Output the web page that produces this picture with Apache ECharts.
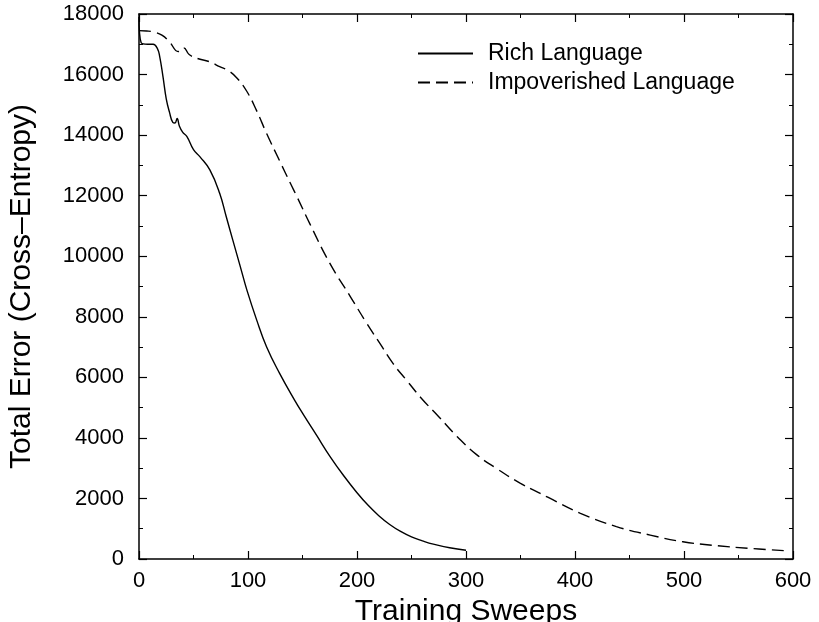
<!DOCTYPE html>
<html>
<head>
<meta charset="utf-8">
<script src="https://cdn.jsdelivr.net/npm/echarts@6/dist/echarts.min.js"></script>
<style>
  html, body { margin: 0; padding: 0; background: #fff; }
  #chart { width: 819px; height: 622px; }
</style>
</head>
<body>
<div id="chart"></div>
<script>
// Rich Language (solid line)
const richSweeps = [0, 2, 8, 13, 17, 19, 22, 25, 28, 31, 33, 35, 37, 40, 44, 50, 56, 65, 74, 80, 86, 93, 99, 108, 117, 129, 143, 151, 163, 175, 188, 200, 210, 220, 230, 240, 250, 260, 270, 285, 300]
const richError = [17900, 17050, 17000, 17000, 16850, 16590, 15930, 15200, 14750, 14420, 14400, 14550, 14300, 14100, 13950, 13520, 13280, 12850, 12080, 11310, 10540, 9650, 8880, 7890, 7010, 6130, 5230, 4760, 4080, 3400, 2740, 2190, 1780, 1430, 1140, 910, 730, 600, 490, 370, 290]

// Impoverished Language (dashed line)
const poorSweeps = [0, 7, 13, 21, 28, 36, 41, 46, 53, 65, 74, 82, 90, 99, 108, 117, 129, 139, 145, 157, 175, 194, 209, 221, 233, 246, 259, 275, 292, 310, 328, 350, 375, 405, 438, 469, 499, 530, 561, 597]
const poorError = [17450, 17440, 17410, 17300, 17080, 16760, 16880, 16660, 16540, 16420, 16260, 16130, 15880, 15440, 14800, 14060, 13150, 12400, 11960, 11050, 9770, 8660, 7780, 7120, 6460, 5880, 5310, 4700, 4040, 3440, 2990, 2500, 2040, 1510, 1070, 790, 570, 440, 350, 265]

const xTicks = [0, 100, 200, 300, 400, 500, 600]
const yTicks = [0, 2000, 4000, 6000, 8000, 10000, 12000, 14000, 16000, 18000]

const font = 'Liberation Sans, Arial, Helvetica, sans-serif'

const zip = (xs, ys) => xs.map((x, i) => [x, ys[i]])

const chart = echarts.init(document.getElementById('chart'))

// 坐标轴公共设置
const axisBase = (extra) => Object.assign({
  type: 'value',
  axisLine: { show: true, onZero: false, lineStyle: { color: '#000', width: 1.5 } },
  axisTick: { show: true, inside: true, length: 8, lineStyle: { color: '#000', width: 1.2 } },
  minorTick: { show: true, splitNumber: 2, length: 4, lineStyle: { color: '#000', width: 1 } },
  splitLine: { show: false },
  minorSplitLine: { show: false }
}, extra)

const option = {
  animation: false,
  backgroundColor: '#fff',
  grid: { left: 139, right: 26, top: 14, bottom: 63, outerBoundsMode: 'none', containLabel: false },
  legend: {
    orient: 'vertical',
    left: 412,
    top: 37,
    itemWidth: 55,
    itemHeight: 16,
    itemGap: 6,
    itemStyle: { opacity: 0 },
    textStyle: { fontFamily: font, fontSize: 23, color: '#000', padding: [0, 0, 0, 10] },
    data: ['Rich Language', 'Impoverished Language']
  },
  xAxis: [
    axisBase({
      min: 0, max: 600, interval: 100,
      position: 'bottom',
      name: 'Training Sweeps',
      nameLocation: 'middle',
      nameGap: 26,
      nameTextStyle: { fontFamily: font, fontSize: 30, color: '#000' },
      axisLabel: {
        fontFamily: font, fontSize: 22, color: '#000', margin: 11,
        formatter: (v) => xTicks.includes(v) ? String(v) : ''
      }
    }),
    axisBase({
      min: 0, max: 600, interval: 100,
      position: 'top',
      axisLabel: { show: false }
    })
  ],
  yAxis: [
    axisBase({
      min: 0, max: 18000, interval: 2000,
      position: 'left',
      name: 'Total Error (Cross\u2013Entropy)',
      nameLocation: 'middle',
      nameGap: 102,
      nameTextStyle: { fontFamily: font, fontSize: 30, color: '#000' },
      axisLabel: {
        fontFamily: font, fontSize: 22, color: '#000', margin: 15,
        formatter: (v) => yTicks.includes(v) ? String(v) : ''
      }
    }),
    axisBase({
      min: 0, max: 18000, interval: 2000,
      position: 'right',
      axisLabel: { show: false }
    })
  ],
  series: [
    {
      name: 'Rich Language',
      type: 'line',
      data: zip(richSweeps, richError),
      showSymbol: false,
      symbol: 'none',
      smooth: 0.45,
      lineStyle: { color: '#000', width: 1.4, type: 'solid' },
      itemStyle: { color: '#000' }
    },
    {
      name: 'Impoverished Language',
      type: 'line',
      data: zip(poorSweeps, poorError),
      showSymbol: false,
      symbol: 'none',
      smooth: 0.45,
      lineStyle: { color: '#000', width: 1.4, type: [12, 6] },
      itemStyle: { color: '#000' }
    }
  ]
}

chart.setOption(option)
</script>
</body>
</html>
